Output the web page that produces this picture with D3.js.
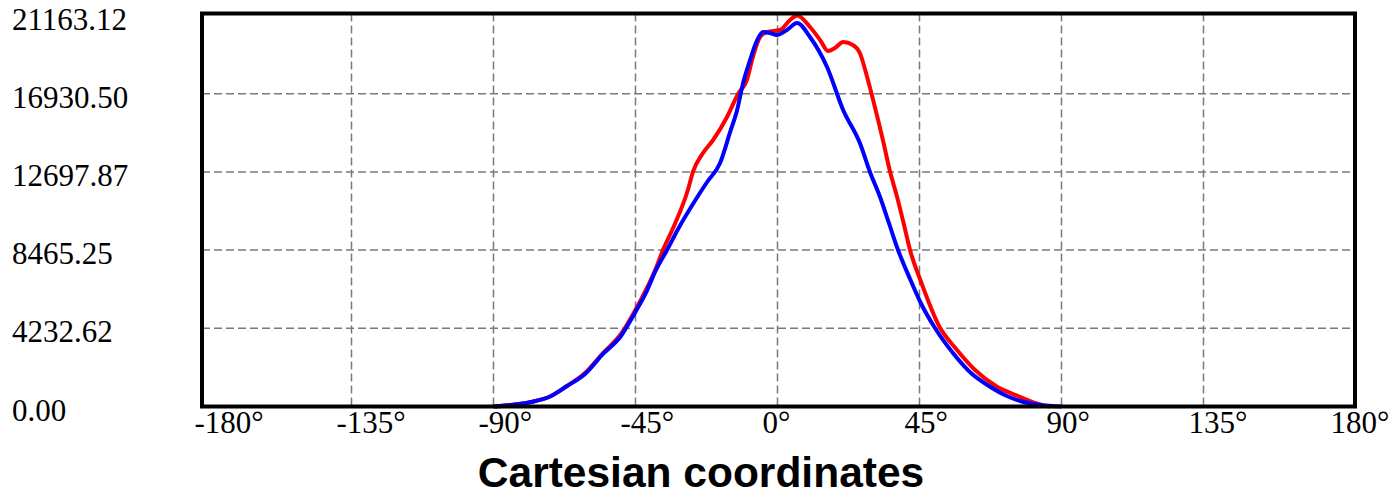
<!DOCTYPE html>
<html>
<head>
<meta charset="utf-8">
<script src="https://cdn.jsdelivr.net/npm/d3@7"></script>
<style>
  html, body { margin: 0; padding: 0; background: #fff; }
  svg { display: block; }
</style>
</head>
<body>
<svg id="chart" width="1400" height="494"></svg>
<script>
// ---- data ----
const xTicks = [-180, -135, -90, -45, 0, 45, 90, 135, 180];
const xTickLabels = ["-180°", "-135°", "-90°", "-45°", "0°", "45°", "90°", "135°", "180°"];
const yTicks = [0, 4232.62, 8465.25, 12697.87, 16930.50, 21163.12];
const yTickLabels = ["0.00", "4232.62", "8465.25", "12697.87", "16930.50", "21163.12"];
const xTitle = "Cartesian coordinates";

const redAngles = [-90, -78.1, -72.4, -66.7, -61.0, -55.3, -49.6, -45.2, -41.7, -38.5, -36.3, -32.8, -28.4, -26.8, -23.6, -20.4, -16.0, -12.5, -9.7, -7.8, -5.5, -3.3, 0.8, 4.0, 6.2, 10.3, 13.5, 16.0, 18.2, 20.8, 23.9, 26.1, 28.4, 30.3, 33.4, 35.7, 37.9, 40.1, 42.0, 45.5, 51.2, 56.9, 62.6, 69.2, 76.2, 81.6, 85.4, 86.4];
const redValues = [0, 244, 514, 1110, 1813, 2896, 3924, 5169, 6306, 7497, 8471, 9770, 11719, 12693, 13722, 14425, 15671, 16916, 17673, 18918, 20001, 20272, 20380, 20921, 21163, 20542, 19839, 19243, 19406, 19730, 19568, 19135, 17836, 16591, 14425, 12693, 11340, 9825, 8471, 6739, 4357, 3058, 1976, 1110, 568, 189, 27, 0];

const blueAngles = [-90, -78.1, -72.4, -66.7, -61.0, -55.3, -49.6, -45.2, -41.7, -38.5, -35.0, -31.5, -25.8, -22.3, -18.2, -15.1, -12.8, -10.9, -8.7, -6.4, -4.6, -2.4, -0.2, 3.0, 6.2, 10.3, 15.7, 20.8, 26.1, 29.3, 32.5, 35.3, 38.2, 42.0, 45.4, 49.9, 55.6, 61.3, 67.0, 72.7, 76.9, 83.2, 90];
const blueValues = [0, 244, 514, 1110, 1759, 2842, 3816, 5061, 6144, 7389, 8471, 9608, 11232, 12152, 13181, 14805, 16050, 17511, 18756, 19839, 20272, 20218, 20110, 20380, 20759, 20001, 18377, 16050, 14263, 12693, 11340, 9933, 8471, 6902, 5602, 4249, 2896, 1813, 1110, 568, 298, 81, 0];

// ---- layout ----
const svg = d3.select("#chart");
const frame = { left: 202, right: 1355, top: 13.5, bottom: 406.5 };
const x = d3.scaleLinear().domain([-180, 180]).range([209.5, 1345.5]);
const y = d3.scaleLinear().domain([0, 21163.12]).range([406.5, 15.5]);

// grid
const grid = svg.append("g");
grid.selectAll("line.v").data(xTicks.slice(1, -1)).enter().append("line")
  .attr("x1", d => x(d)).attr("x2", d => x(d))
  .attr("y1", frame.top).attr("y2", frame.bottom)
  .attr("stroke", "#7a7a7a").attr("stroke-width", 1.5).attr("stroke-dasharray", "8,4");
grid.selectAll("line.h").data(yTicks.slice(1, -1)).enter().append("line")
  .attr("x1", frame.left).attr("x2", frame.right)
  .attr("y1", d => y(d)).attr("y2", d => y(d))
  .attr("stroke", "#7a7a7a").attr("stroke-width", 1.5).attr("stroke-dasharray", "8,4");

// lines
const line = d3.line().x(d => x(d[0])).y(d => y(d[1])).curve(d3.curveMonotoneX);
const redData = redAngles.map((a, i) => [a, redValues[i]]);
const blueData = blueAngles.map((a, i) => [a, blueValues[i]]);
svg.append("path").datum(redData).attr("d", line)
  .attr("fill", "none").attr("stroke", "#ff0000").attr("stroke-width", 4).attr("stroke-linejoin", "round");
svg.append("path").datum(blueData).attr("d", line)
  .attr("fill", "none").attr("stroke", "#0000ff").attr("stroke-width", 4).attr("stroke-linejoin", "round");

// frame
svg.append("rect")
  .attr("x", frame.left).attr("y", frame.top)
  .attr("width", frame.right - frame.left).attr("height", frame.bottom - frame.top)
  .attr("fill", "none").attr("stroke", "#000").attr("stroke-width", 4);

// y labels
svg.append("g").selectAll("text").data(yTicks).enter().append("text")
  .attr("x", 12).attr("y", d => y(d) + 14)
  .attr("font-family", "'Liberation Serif', 'Times New Roman', serif")
  .attr("font-size", 31).attr("fill", "#000")
  .text((d, i) => yTickLabels[i]);

// x labels
svg.append("g").selectAll("text").data(xTicks).enter().append("text")
  .attr("x", d => x(d) - 15).attr("y", 433)
  .attr("font-family", "'Liberation Serif', 'Times New Roman', serif")
  .attr("font-size", 31).attr("fill", "#000")
  .text((d, i) => xTickLabels[i]);

// title
svg.append("text")
  .attr("x", 701).attr("y", 487)
  .attr("text-anchor", "middle")
  .attr("font-family", "'Liberation Sans', Arial, sans-serif")
  .attr("font-weight", "bold").attr("font-size", 42.5).attr("fill", "#000")
  .text(xTitle);
</script>
</body>
</html>
